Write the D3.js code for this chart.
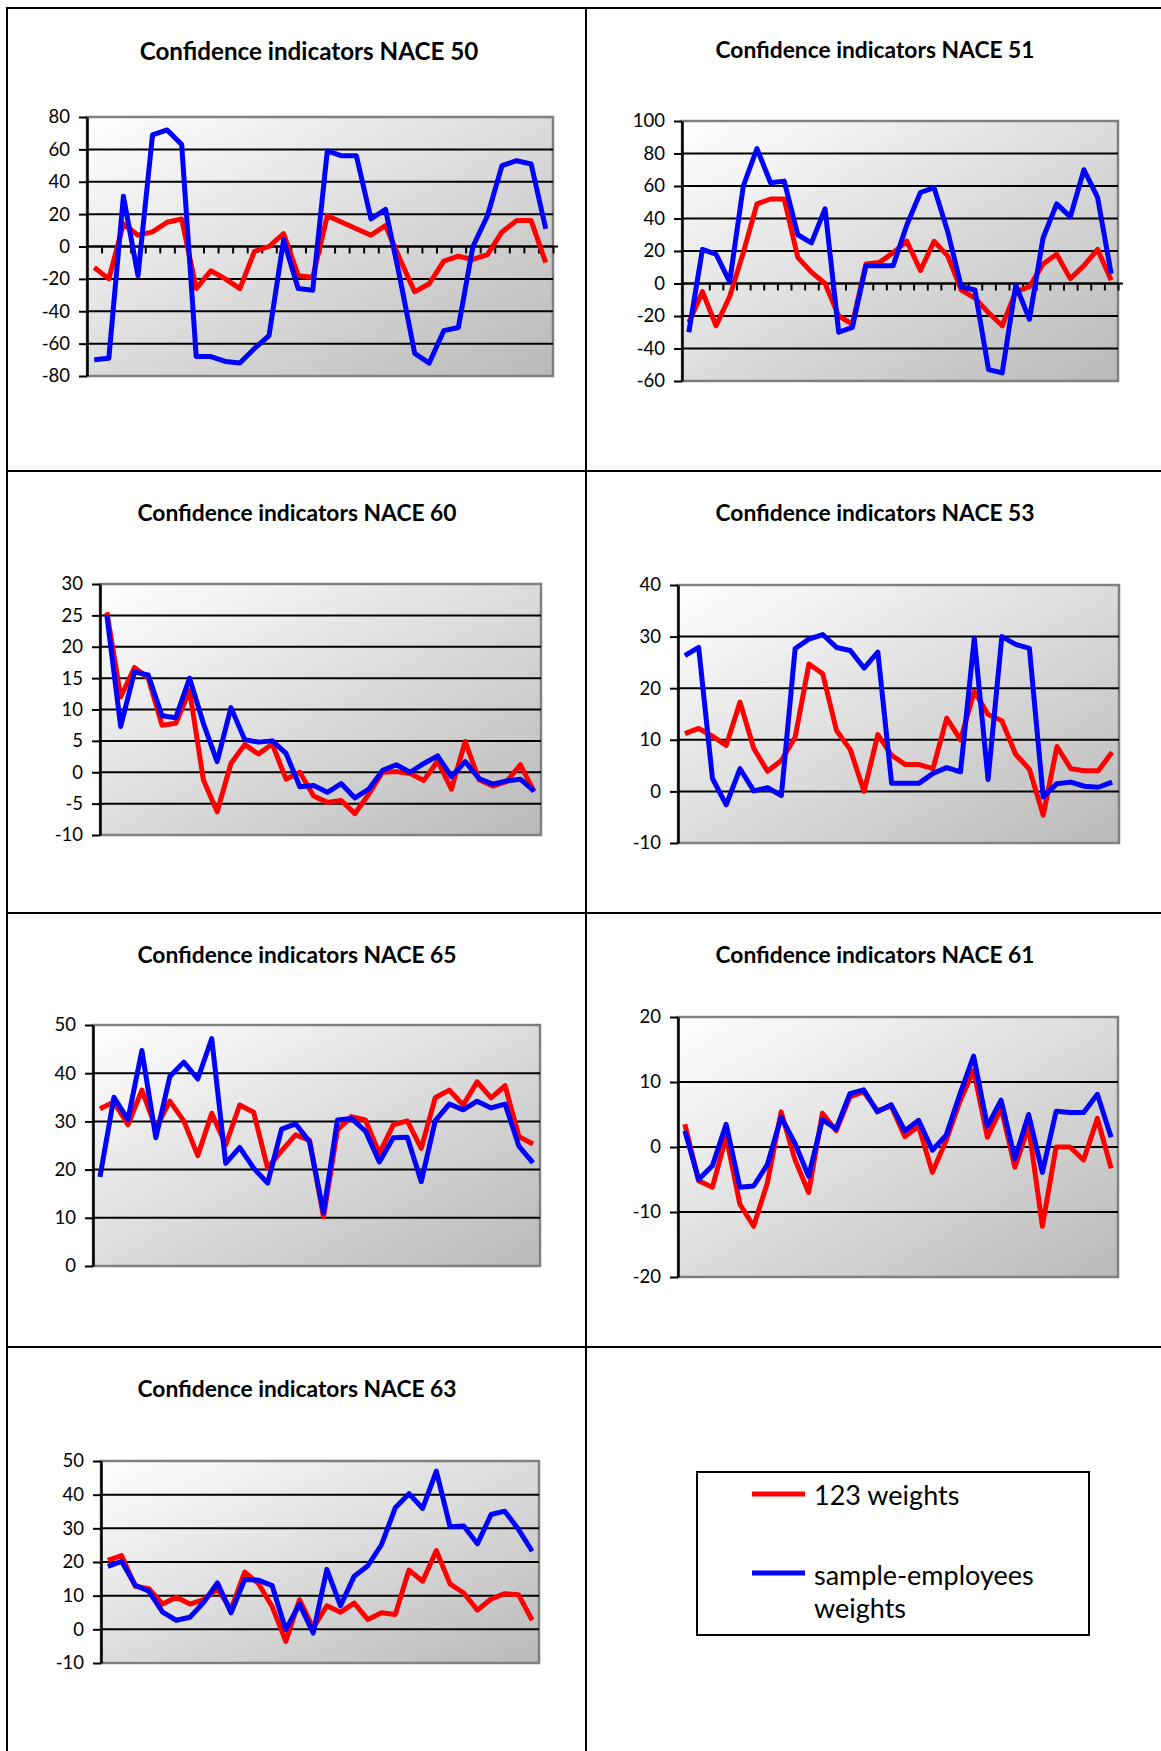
<!DOCTYPE html>
<html>
<head>
<meta charset="utf-8">
<script src="https://cdn.jsdelivr.net/npm/d3@7"></script>
<style>
  body { margin: 0; background: #fff; }
  svg { display: block; font-family: Lato, "Open Sans", sans-serif; }
</style>
</head>
<body>
<div id="page"></div>
<script>
// series: "123 weights" (red) and "sample-employees weights" (blue), 32 periods each
const nace50_w123 = [-13,-20,14,7,9,15,17,-26,-15,-20,-26,-3,0,8,-18,-19,19,15,11,7,13,-8,-28,-23,-9,-6,-8,-5,9,16,16,-10];
const nace50_emp  = [-70,-69,31,-18,69,72,63,-68,-68,-71,-72,-63,-55,4,-26,-27,59,56,56,17,23,-20,-66,-72,-52,-50,0,19,50,53,51,11];

const nace51_w123 = [-24,-5,-26,-8,19,49,52,52,16,7,0,-20,-25,12,13,19,26,8,26,17,-4,-9,-18,-26,-5,-2,12,18,3,11,21,2];
const nace51_emp  = [-30,21,18,1,60,83,62,63,30,25,46,-30,-27,11,11,11,36,56,59,32,-2,-4,-53,-55,-1,-22,28,49,41,70,53,6];

const nace60_w123 = [25.5,12,16.7,15,7.5,7.8,13,-1.2,-6.3,1.4,4.4,2.9,4.5,-1.1,0,-3.8,-4.8,-4.5,-6.6,-3.5,0,0.1,-0.2,-1.3,1.8,-2.7,4.9,-1.2,-2.2,-1.5,1.2,-3.1];
const nace60_emp  = [25,7.3,16,15.5,9,8.7,15,7.8,1.7,10.3,5.2,4.8,5,3,-2.3,-2.1,-3.2,-1.8,-4.1,-2.7,0.3,1.2,0,1.4,2.6,-0.7,1.7,-1,-1.9,-1.4,-1.1,-3];

const nace53_w123 = [11.2,12.2,10.7,8.9,17.3,8.3,3.9,6,10.5,24.7,22.8,11.8,8.1,0,11,7,5.2,5.2,4.4,14.2,10,19.4,14.9,13.7,7.2,4.3,-4.6,8.7,4.4,4,4,7.6];
const nace53_emp  = [26.3,27.9,2.5,-2.6,4.4,0.1,0.7,-0.8,27.7,29.5,30.4,27.9,27.3,23.9,27,1.6,1.6,1.6,3.5,4.6,3.8,29.7,2.3,30,28.5,27.7,-1.1,1.5,1.8,1,0.8,1.8];

const nace65_w123 = [32.6,34,29.3,36.5,28.6,34.2,30.1,22.9,31.7,25.1,33.4,31.9,20.3,23.9,27.2,26.1,10.2,28.2,31,30.3,23.4,29.3,30.1,24.4,34.9,36.5,33.4,38.2,34.9,37.4,26.8,25.3];
const nace65_emp  = [18.5,35,30.4,44.7,26.6,39.3,42.3,38.8,47.2,21.3,24.6,20.3,17.2,28.4,29.5,25.8,11.1,30.3,30.6,28,21.6,26.6,26.7,17.5,30.1,33.6,32.4,34.2,32.8,33.6,24.8,21.4];

const nace61_w123 = [3.5,-5.2,-6.2,1.6,-8.8,-12.2,-5.5,5.4,-1.9,-7,5.2,2.5,7.7,8.5,5.6,6.3,1.6,3.2,-3.9,1,7,11.8,1.5,6,-3.1,3.2,-12.2,0,0,-2,4.4,-3.3];
const nace61_emp  = [2.5,-5,-2.9,3.5,-6.2,-6,-2.7,4.6,0.6,-4.5,4.2,2.8,8.2,8.8,5.4,6.5,2.5,4.1,-0.5,1.8,8.1,14,3.2,7.2,-1.8,5,-3.9,5.5,5.3,5.3,8.1,1.5];

const nace63_w123 = [20.5,21.9,12.8,12.1,7.5,9.5,7.5,8.8,12,6,17,13.6,6.8,-3.6,8.8,0.4,7,5.1,7.8,2.9,4.9,4.4,17.6,14.3,23.4,13.5,10.8,5.7,9,10.6,10.3,2.7];
const nace63_emp  = [18.7,20.2,13.1,11.3,5.1,2.7,3.6,8,13.8,4.9,14.8,14.6,13,-0.1,7.5,-1.1,17.8,7,15.8,18.9,25.2,36.1,40.3,35.9,47,30.5,30.7,25.4,34.1,35.1,29.7,23.2];

// y tick labels
const ticks50 = [-80,-60,-40,-20,0,20,40,60,80];
const ticks51 = [-60,-40,-20,0,20,40,60,80,100];
const ticks60 = [-10,-5,0,5,10,15,20,25,30];
const ticks53 = [-10,0,10,20,30,40];
const ticks65 = [0,10,20,30,40,50];
const ticks61 = [-20,-10,0,10,20];
const ticks63 = [-10,0,10,20,30,40,50];

const legendLabels = ["123 weights", "sample-employees weights"];
const colors = ["#ff0000", "#0000ff"];

// panel layout (page pixels)
const panels = [
  { title: "Confidence indicators NACE 50", red: nace50_w123, blue: nace50_emp, ticks: ticks50,
    x0: 87, x1: 553, y0: 117, y1: 376, tx: 309, ty: 60, fs: 24.2, zeroAxis: true },
  { title: "Confidence indicators NACE 51", red: nace51_w123, blue: nace51_emp, ticks: ticks51,
    x0: 682, x1: 1118, y0: 121, y1: 381, tx: 875, ty: 58, fs: 22.8, zeroAxis: true },
  { title: "Confidence indicators NACE 60", red: nace60_w123, blue: nace60_emp, ticks: ticks60,
    x0: 100, x1: 541, y0: 584, y1: 835, tx: 297, ty: 521, fs: 22.8 },
  { title: "Confidence indicators NACE 53", red: nace53_w123, blue: nace53_emp, ticks: ticks53,
    x0: 678, x1: 1119, y0: 585, y1: 843, tx: 875, ty: 521, fs: 22.8 },
  { title: "Confidence indicators NACE 65", red: nace65_w123, blue: nace65_emp, ticks: ticks65,
    x0: 93, x1: 540, y0: 1025, y1: 1266, tx: 297, ty: 963, fs: 22.8 },
  { title: "Confidence indicators NACE 61", red: nace61_w123, blue: nace61_emp, ticks: ticks61,
    x0: 678, x1: 1118, y0: 1017, y1: 1277, tx: 875, ty: 963, fs: 22.8 },
  { title: "Confidence indicators NACE 63", red: nace63_w123, blue: nace63_emp, ticks: ticks63,
    x0: 101, x1: 539, y0: 1461, y1: 1663, tx: 297, ty: 1397, fs: 22.8 }
];

const W = 1161, H = 1751;
const svg = d3.select("#page").append("svg")
  .attr("width", W)
  .attr("height", H);

// plot-area gradient
const grad = svg.append("defs").append("linearGradient")
  .attr("id", "plotbg")
  .attr("x1", 0).attr("y1", 0).attr("x2", 1).attr("y2", 1);
grad.append("stop").attr("offset", "0%").attr("stop-color", "#ffffff");
grad.append("stop").attr("offset", "100%").attr("stop-color", "#b9b9b9");

// table grid
const gridColor = "#000";
const hLines = [8, 471, 913, 1347];
hLines.forEach(y => {
  svg.append("line").attr("x1", 6).attr("x2", W).attr("y1", y).attr("y2", y)
    .attr("stroke", gridColor).attr("stroke-width", 2);
});
[7, 586].forEach(x => {
  svg.append("line").attr("x1", x).attr("x2", x).attr("y1", 7).attr("y2", H)
    .attr("stroke", gridColor).attr("stroke-width", 2);
});

panels.forEach(p => {
  const n = p.red.length;
  const g = svg.append("g");

  const x = d3.scalePoint()
    .domain(d3.range(n))
    .range([p.x0, p.x1])
    .padding(0.5);

  const y = d3.scaleLinear()
    .domain([p.ticks[0], p.ticks[p.ticks.length - 1]])
    .range([p.y1, p.y0]);

  // title
  g.append("text")
    .attr("x", p.tx)
    .attr("y", p.ty)
    .attr("text-anchor", "middle")
    .attr("font-weight", "bold")
    .attr("font-size", p.fs)
    .text(p.title);

  // background + frame
  g.append("rect")
    .attr("x", p.x0).attr("y", p.y0)
    .attr("width", p.x1 - p.x0).attr("height", p.y1 - p.y0)
    .attr("fill", "url(#plotbg)")
    .attr("stroke", "#808080")
    .attr("stroke-width", 2.5);

  // gridlines (inner)
  g.selectAll(".grid")
    .data(p.ticks.slice(1, -1))
    .enter()
    .append("line")
    .attr("x1", p.x0).attr("x2", p.x1)
    .attr("y1", d => y(d)).attr("y2", d => y(d))
    .attr("stroke", "#000")
    .attr("stroke-width", 2);

  // category axis crossing at zero
  if (p.zeroAxis) {
    const bounds = d3.scaleLinear().domain([0, n]).range([p.x0, p.x1]);
    const xa = g.append("g")
      .attr("transform", `translate(0,${y(0)})`)
      .call(d3.axisBottom(bounds).tickValues(d3.range(1, n + 1)).tickSize(7).tickSizeOuter(0).tickFormat(""));
    xa.select(".domain").attr("stroke-width", 2).attr("d", `M${p.x0},0H${p.x1 + 5}`);
    xa.selectAll(".tick line").attr("stroke-width", 2);
  }

  // y axis
  const ya = g.append("g")
    .attr("transform", `translate(${p.x0},0)`)
    .call(d3.axisLeft(y).tickValues(p.ticks).tickSize(8).tickSizeOuter(0).tickPadding(9).tickFormat(d => String(d)));
  ya.select(".domain").attr("stroke-width", 2.5);
  ya.selectAll(".tick line").attr("stroke-width", 2);
  ya.selectAll(".tick text")
    .attr("font-size", 18.5)
    .attr("font-family", "Lato, 'Open Sans', sans-serif")
    .attr("fill", "#000");

  // series: red first, blue on top
  const line = d3.line()
    .x((d, i) => x(i))
    .y(d => y(d));

  [p.red, p.blue].forEach((s, k) => {
    g.append("path")
      .datum(s)
      .attr("d", line)
      .attr("fill", "none")
      .attr("stroke", colors[k])
      .attr("stroke-width", 5)
      .attr("stroke-linejoin", "round");
  });
});

// legend
const lg = svg.append("g");
lg.append("rect")
  .attr("x", 697).attr("y", 1472)
  .attr("width", 392).attr("height", 163)
  .attr("fill", "#fff")
  .attr("stroke", "#000")
  .attr("stroke-width", 2);

const legendRows = [
  { y: 1494, lines: [legendLabels[0]], base: 1505 },
  { y: 1573, lines: ["sample-employees", "weights"], base: 1585 }
];
legendRows.forEach((r, k) => {
  lg.append("line")
    .attr("x1", 752).attr("x2", 805)
    .attr("y1", r.y).attr("y2", r.y)
    .attr("stroke", colors[k])
    .attr("stroke-width", 5);
  r.lines.forEach((t, j) => {
    lg.append("text")
      .attr("x", 814)
      .attr("y", r.base + j * 33)
      .attr("font-size", 27)
      .text(t);
  });
});
</script>
</body>
</html>
